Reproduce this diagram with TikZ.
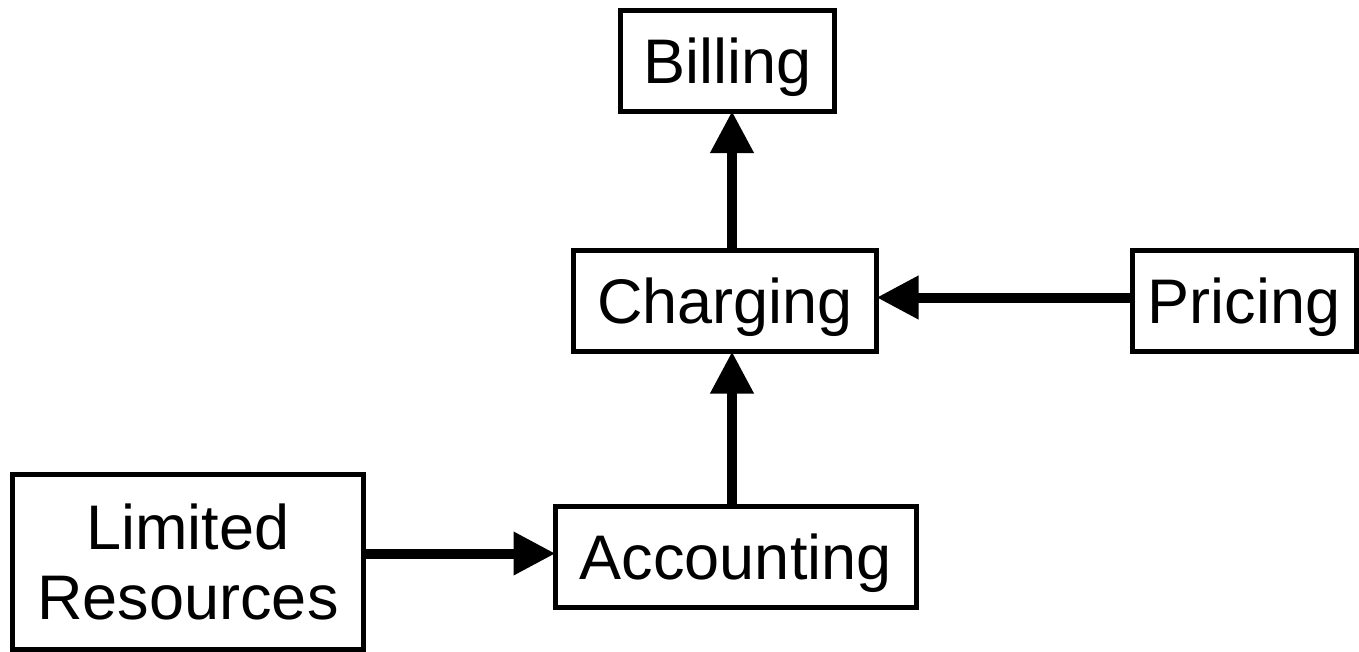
\documentclass[tikz,border=0pt]{standalone}
\usepackage{fontspec}
\setmainfont{Liberation Sans}
\usetikzlibrary{arrows.meta}
\tikzset{
  box/.style={draw=black, line width=5pt, fill=white, inner sep=0pt, outer sep=0pt,
    text height=45pt, text depth=0pt,
    font=\fontsize{63}{70}\selectfont},
  label/.style={inner sep=0pt, outer sep=0pt, align=center, text depth=0pt,
    font=\fontsize{63}{70}\selectfont},
  flow/.style={line width=10pt, -{Triangle[length=42pt,width=41pt]}},
}
\begin{document}
\begin{tikzpicture}[x=1pt, y=-1pt]
  \useasboundingbox (0,0) rectangle (1359,651);

  \node[box, minimum width=214pt, minimum height=100.5pt] (billing) at (727.5,60.75) {Billing};
  \node[box, minimum width=303pt, minimum height=101pt] (charging) at (725,301) {Charging};
  \node[box, minimum width=224pt, minimum height=101pt] (pricing) at (1244,301) {Pricing};
  \node[box, minimum width=351pt, minimum height=174.5pt] (limited) at (188,561.75) {};
  \node[label] (limitedtext) at (limited.center) {Limited\\Resources};
  \node[box, minimum width=360.5pt, minimum height=101pt] (accounting) at (735.75,557) {Accounting};

  % vertical axis shared by the upward arrows
  \coordinate (axis) at (732,0);

  \draw[flow] (charging.north -| axis) -- (billing.south -| axis);
  \draw[flow] (accounting.north -| axis) -- (charging.south -| axis);
  \draw[flow] (pricing.west |- 0,297.5) -- (charging.east |- 0,297.5);
  \draw[flow] (limited.east |- 0,553.5) -- (accounting.west |- 0,553.5);
\end{tikzpicture}
\end{document}
